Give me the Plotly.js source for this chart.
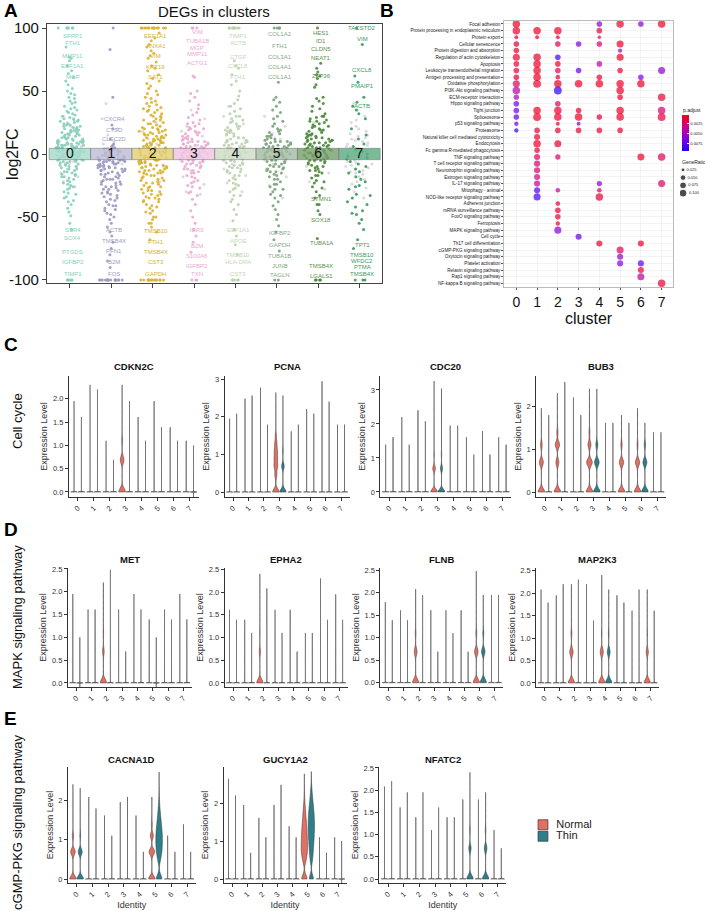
<!DOCTYPE html>
<html><head><meta charset="utf-8">
<script src="https://cdn.plot.ly/plotly-3.0.1.min.js"></script>
<style>html,body{margin:0;padding:0;background:#fff}#chart{width:705px;height:911px}</style>
</head><body><div id="chart"></div>
<script>
// ================= PANEL A DATA =================
const clusters = [0,1,2,3,4,5,6,7];
const pointColors = ['#86cfbb','#9d99c2','#d9b22e','#eba9d4','#b9d1ad','#7aa27b','#4a873a','#36995a'];
const tileColors  = ['#a6dccd','#bfbdd6','#e4cf76','#f1c5e2','#cfdec7','#a4bca4','#78a26c','#5cad82'];
const labelColors = ['#86cfbb','#a09cc2','#d6b030','#eaa8d3','#c2d6b8','#86a986','#5a8f4c','#3a9a5e'];
const nsColor = '#d6d6d9';

const fc0 = [100,100,100,100,100,100,85,77,76,74,70,66,64,61,58,55,52,50,48,47,45,44,42,41,40,38,37,36,35,34,33,32,31,30,29,28,27,27,26,25,24,24,23,22,22,21,20,20,19,19,18,18,17,17,16,16,15,15,14,14,13,13,12,12,11,11,10,10,10,9,9,9,8,8,8,7,7,7,6,6,6,5,5,5,4,4,4,3,3,3,2,2,2,1,1,1,-1,-1,-2,-2,-3,-3,-4,-4,-5,-5,-6,-6,-7,-8,-9,-10,-11,-12,-13,-14,-15,-16,-17,-18,-19,-20,-22,-23,-25,-26,-28,-30,-32,-35,-37,-40,-43,-46,-49,-55,-60,-100,-100,-100,-100,-100];
const fc1 = [100,83,45,23,20,12,8,7,5,4,3,3,2,2,1,1,-1,-1,-2,-2,-2,-3,-3,-3,-4,-4,-4,-5,-5,-5,-6,-6,-6,-7,-7,-8,-8,-9,-9,-10,-10,-11,-11,-12,-12,-13,-13,-14,-15,-15,-16,-17,-18,-19,-20,-20,-21,-22,-23,-24,-25,-26,-27,-28,-29,-30,-31,-32,-33,-35,-36,-38,-40,-41,-43,-45,-47,-50,-52,-55,-58,-62,-65,-70,-75,-80,-85,-90,-100,-100,-100,-100,-100,-100,-100,-100,-100,-100,-100,-100,-100,-100,-100,-100];
const fc2 = [100,100,100,100,100,100,100,100,100,100,100,100,100,100,96,92,90,87,85,82,80,78,76,73,70,68,66,63,60,58,56,54,52,50,48,47,45,44,42,41,40,39,38,37,36,35,34,33,32,31,30,29,28,27,26,25,24,23,22,21,20,20,19,18,18,17,16,16,15,15,14,14,13,13,12,12,11,11,10,10,9,9,8,8,7,7,6,6,5,5,4,4,3,3,2,2,1,1,-1,-1,-2,-2,-3,-3,-4,-4,-5,-5,-6,-6,-7,-7,-8,-8,-9,-9,-10,-10,-11,-11,-12,-12,-13,-13,-14,-14,-15,-15,-16,-17,-18,-19,-20,-21,-22,-23,-24,-25,-26,-27,-28,-29,-30,-31,-32,-33,-34,-35,-36,-37,-38,-40,-41,-43,-45,-47,-50,-52,-55,-58,-62,-68,-100,-100,-100,-100,-100,-100,-100,-100,-100,-100,-100,-100,-100,-100];
const fc3 = [100,100,100,62,61,50,48,45,42,39,36,33,31,29,27,25,24,22,21,20,19,18,17,16,15,14,13,12,12,11,10,10,9,9,8,8,7,7,6,6,5,5,4,4,3,3,2,2,1,1,-1,-1,-2,-2,-3,-3,-4,-4,-5,-5,-6,-6,-7,-7,-8,-9,-10,-11,-12,-13,-14,-15,-17,-19,-21,-23,-25,-27,-30,-33,-36,-40,-45,-50,-55,-60,-65,-70,-78,-100,-100,-100];
const fc4 = [100,100,100,100,100,100,100,100,74,70,68,63,58,55,50,46,43,40,38,36,34,32,30,28,27,25,24,22,21,20,19,18,17,16,15,14,13,12,11,10,10,9,8,8,7,6,6,5,4,4,3,2,2,1,-1,-1,-2,-3,-3,-4,-5,-5,-6,-7,-8,-9,-10,-11,-12,-13,-14,-15,-17,-19,-21,-23,-25,-27,-30,-33,-36,-40,-44,-48,-53,-60,-65,-72,-80,-100,-100,-100,-100,-100];
const fc5 = [100,100,100,100,57,45,43,41,38,35,33,30,28,26,24,22,20,19,18,17,16,15,14,13,12,11,10,10,9,9,8,8,7,7,6,6,5,5,4,4,3,3,2,2,1,1,-1,-1,-2,-2,-3,-3,-4,-4,-5,-5,-6,-7,-8,-9,-10,-11,-12,-13,-14,-15,-16,-18,-20,-22,-24,-26,-28,-30,-32,-35,-38,-41,-44,-48,-52,-57,-62,-68,-77,-100,-100];
const fc6 = [100,72,68,65,63,62,60,55,53,45,44,42,40,38,36,34,32,30,29,28,27,26,25,24,23,22,21,20,19,18,17,16,15,15,14,14,13,13,12,12,11,11,10,10,9,9,8,8,7,7,6,6,5,5,4,4,3,3,2,2,1,1,0,-1,-1,-2,-2,-3,-3,-4,-4,-5,-5,-6,-7,-8,-9,-10,-11,-12,-13,-14,-15,-17,-19,-21,-23,-26,-30,-35,-40,-45,-48,-67,-100,-100,-100,-100];
const fc7 = [100,87,62,57,45,41,38,35,32,28,20,12,8,4,2,0,-2,-4,-6,-8,-10,-12,-15,-18,-22,-25,-28,-32,-35,-38,-42,-45,-48,-52,-55,-60,-68,-75,-100,-100,-100];
// additional genes in the dense core of each cluster
const core0 = [28,26,23,21,19,17,15,13,12,11,9,8,7,6,5,4,3,2,1,0,-1,-2,-3,-4,-5,-6,-7,-8,-9,-10,-12,-14,-16,-18,-21,-24,-27,-31,-34,-38];
const core1 = [6,4,2,1,0,-1,-2,-3,-4,-5,-6,-7,-8,-9,-10,-11,-12,-13,-14,-16,-18,-20,-22,-24,-26,-28,-31,-34,-37,-41,-44,-48];
const core2 = [35,30,27,24,21,19,17,15,13,11,9,7,5,3,1,-1,-3,-5,-7,-9,-11,-13,-15,-17,-19,-21,-23,-26,-29,-32,-35,-38,-42,-46,-50,-55];
const core3 = [24,20,17,14,12,10,8,6,4,2,0,-2,-4,-6,-8,-10,-12,-15,-18,-22,-26,-31];
const core4 = [30,26,22,19,16,13,11,9,7,5,3,1,-1,-3,-5,-7,-9,-11,-14,-17,-20,-24,-28,-33,-38];
const core5 = [14,12,10,8,6,4,2,0,-2,-4,-6,-8,-10,-12,-14,-17,-20,-24,-28,-33];
const core6 = [30,26,22,19,16,13,11,9,7,5,3,1,-1,-3,-5,-7,-10,-13,-17,-22,-27,-33,-40];
const core7 = [15,6,-3,-14,-20,-26,-33,-40,-47];
const ns0 = [30,25,22,18,15,12,10,8,6,5,3,2,1,-1,-2,-4,-6,-8,-10,-12,-15,-18,-22,-26];
const ns1 = [40,28,20,15,10,8,5,3,2,-1,-3,-5,-8,-12,-16];
const ns2 = [25,18,12,8,4,1,-2,-6,-10,-15,-22];
const ns3 = [35,28,22,18,14,10,7,4,1,-2,-5,-9,-13,-18,-24,-30,-32];
const ns4 = [38,30,24,18,13,9,5,2,-1,-4,-8,-12,-17,-23,-30];
const ns5 = [30,22,16,12,8,5,2,-1,-4,-8,-12,-18,-25,-35];
const ns6 = [25,18,12,8,4,1,-2,-6,-10,-15,-22,-28];
const ns7 = [40,35,30,27,25,22,20,18,16,15,14,13,12,11,10,9,8,7,6,5,4,3,2,1,0,-1,-2,-3,-4,-5,-6,-7,-8,-9,-10,-11,-12,-13,-14,-15,-16,-18,-20,-22,-24,-27,-30,-35];
const sigFC = [fc0.concat(core0),fc1.concat(core1),fc2.concat(core2),fc3.concat(core3),fc4.concat(core4),fc5.concat(core5),fc6.concat(core6),fc7.concat(core7)];
const nsFC  = [ns0,ns1,ns2,ns3,ns4,ns5,ns6,ns7];

const labelCluster = [0,0,0,0,0,0,0,0,0,0, 1,1,1,1,1,1,1,1, 2,2,2,2,2,2,2,2,2,2, 3,3,3,3,3,3,3,3,3,3, 4,4,4,4,4,4,4,4,4,4, 5,5,5,5,5,5,5,5,5,5, 6,6,6,6,6,6,6,6,6,6, 7,7,7,7,7,7,7,7,7,7];
const labelGene = ['SFRP1','FTH1','MMP11','EEF1A1','MGP','SSR4','SOX4','PTGDS','IGFBP2','TIMP1',
  'CXCR4','CTSD','CLEC2D','ACTB','TMSB4X','PFN1','B2M','FOS',
  'EEF1A1','ANXA1','VIM','KRT19','SAT1','TMSB10','FTH1','TMSB4X','CST3','GAPDH',
  'VIM','TUBA1B','MGP','MMP11','ACTG1','IER3','B2M','S100A6','IGFBP2','TXN',
  'TIMP1','ACTB','CTGF','CXCL8','FTH1','EEF1A1','APOE','TMSB10','HLA-DRA','CST3',
  'COL1A2','FTH1','COL3A1','COL4A1','COL1A1','IGFBP2','GAPDH','TUBA1B','JUNB','TAGLN',
  'HES1','ID1','CLDN5','NEAT1','ZFP36','STMN1','SOX18','TUBA1A','TMSB4X','LGALS1',
  'TACSTD2','VIM','CXCL8','PMAIP1','ACTB','TPT1','TMSB10','WFDC2','PTMA','TMSB4X'];
const labelY = [94,88,78,70,61,-60,-67,-78,-86,-95,
  28,19,12,-60,-69,-77,-86,-95,
  94,86,78,69,61,-61,-70,-78,-86,-95,
  97,90,84,79,72,-60,-73,-81,-89,-95,
  94,88,77,70,61,-60,-69,-80,-86,-95,
  95,86,77,69,61,-63,-72,-81,-89,-96,
  96,90,83,76,62,-36,-52,-71,-89,-97,
  100,91,67,54,38,-72,-80,-85,-90,-95];

// ================= PANEL B DATA =================
const pathways = ['Focal adhesion','Protein processing in endoplasmic reticulum','Protein export','Cellular senescence','Protein digestion and absorption','Regulation of actin cytoskeleton','Apoptosis','Leukocyte transendothelial migration','Antigen processing and presentation','Oxidative phosphorylation','PI3K-Akt signaling pathway','ECM-receptor interaction','Hippo signaling pathway','Tight junction','Spliceosome','p53 signaling pathway','Proteasome','Natural killer cell mediated cytotoxicity','Endocytosis','Fc gamma R-mediated phagocytosis','TNF signaling pathway','T cell receptor signaling pathway','Neurotrophin signaling pathway','Estrogen signaling pathway','IL-17 signaling pathway','Mitophagy - animal','NOD-like receptor signaling pathway','Adherens junction','mRNA surveillance pathway','FoxO signaling pathway','Ferroptosis','MAPK signaling pathway','Cell cycle','Th17 cell differentiation','cGMP-PKG signaling pathway','Oxytocin signaling pathway','Platelet activation','Relaxin signaling pathway','Rap1 signaling pathway','NF-kappa B signaling pathway'];
const dotRow = [0,0,0,0,0, 1,1,1,1, 2,2,2,2, 3,3,3,3,3, 4,4, 5,5,5,5, 6,6,6,6, 7,7,7,7,7,7, 8,8,8,8,8, 9,9,9,9,9,9,9, 10,10,10, 11,11,11, 12,12, 13,13,13,13,13,13, 14,14,14,14,14,14,14, 15,15,15, 16,16,16,16,16,16, 17, 18,18, 19, 20,20,20,20, 21, 22, 23, 24,24,24, 25,25,25, 26,26, 27, 28, 29, 30, 31, 32, 33,33, 34, 35, 36,36, 37, 38, 39];
const dotCluster = [0,4,5,6,7, 0,1,2,4, 0,1,2,4, 0,2,3,4,5, 0,5, 0,1,2,5, 0,1,2,4, 0,1,2,3,5,7, 0,1,2,4,6, 0,1,2,3,4,5,6, 0,2,5, 0,5,7, 0,2, 0,1,2,3,5,7, 0,1,2,3,4,5,7, 0,2,3, 0,1,2,3,4,5, 1, 1,2, 1, 1,2,6,7, 1, 1, 1, 1,4,7, 1,2,4, 1,4, 2, 2, 2, 2, 2, 3, 4,6, 5, 5, 5,6, 6, 6, 7];
const dotGeneRatio = [0.09,0.05,0.09,0.05,0.09, 0.09,0.09,0.09,0.05, 0.025,0.025,0.025,0.02, 0.05,0.05,0.05,0.05,0.08, 0.05,0.03, 0.08,0.09,0.05,0.08, 0.05,0.09,0.05,0.05, 0.05,0.09,0.05,0.05,0.05,0.08, 0.05,0.09,0.035,0.05,0.05, 0.08,0.1,0.09,0.09,0.09,0.09,0.09, 0.09,0.1,0.09, 0.045,0.05,0.09, 0.05,0.05, 0.05,0.09,0.09,0.05,0.09,0.09, 0.05,0.1,0.09,0.09,0.05,0.09,0.1, 0.03,0.025,0.025, 0.03,0.05,0.05,0.05,0.05,0.05, 0.06, 0.09,0.08, 0.05, 0.06,0.045,0.08,0.09, 0.06, 0.06, 0.06, 0.06,0.045,0.08, 0.06,0.035,0.035, 0.08,0.09, 0.035, 0.05, 0.05, 0.03, 0.08, 0.06, 0.06,0.06, 0.08, 0.06, 0.06,0.06, 0.06, 0.08, 0.09];
const dotPadj = [0.0009,0.006,0.0009,0.006,0.0009, 0.0009,0.0009,0.0009,0.0012, 0.0012,0.0012,0.0015,0.003, 0.0012,0.002,0.006,0.0025,0.0009, 0.0012,0.0045, 0.0009,0.0009,0.0078,0.0009, 0.0012,0.0009,0.0012,0.0042, 0.0012,0.0009,0.0022,0.0068,0.0012,0.0058, 0.0012,0.0009,0.0012,0.0012,0.0062, 0.0022,0.0009,0.0009,0.0009,0.0009,0.0009,0.0009, 0.0042,0.0088,0.0009, 0.0045,0.0009,0.0012, 0.0065,0.0022, 0.0068,0.0009,0.0009,0.0012,0.0009,0.0028, 0.0068,0.0009,0.0009,0.0009,0.0012,0.0009,0.0012, 0.0068,0.0012,0.0065, 0.0088,0.0012,0.0012,0.0012,0.0012,0.0012, 0.0012, 0.0009,0.0012, 0.0012, 0.0022,0.0025,0.0009,0.0022, 0.0025, 0.0028, 0.0028, 0.0038,0.0058,0.0022, 0.0075,0.0038,0.0025, 0.0078,0.0012, 0.0012, 0.0012, 0.0012, 0.0015, 0.0058, 0.0072, 0.0012,0.0012, 0.0022, 0.0055, 0.0058,0.0072, 0.0012, 0.0042, 0.0012];
const ratioLegend = [0.025,0.050,0.075,0.100];
const padjTicks = [0.0025,0.0050,0.0075];

// ================= PANELS C-E DATA =================
const clusterNames = ['0','1','2','3','4','5','6','7'];
const groups = ['Normal','Thin'];
const groupColors = ['#e26f63','#2f7f8b'];
const genes = ['CDKN2C','PCNA','CDC20','BUB3','MET','EPHA2','FLNB','MAP2K3','CACNA1D','GUCY1A2','NFATC2'];
const normalMax = [
  [1.95,2.3,1.1,2.3,1.61,1.95,1.39,1.1],
  [1.95,2.48,2.77,2.64,1.61,2.2,2.94,1.79],
  [1.39,2.2,2.4,3.26,1.95,1.61,1.79,1.61],
  [1.95,2.3,2.2,2.4,1.61,1.79,1.95,1.39],
  [1.95,1.61,2.2,1.61,1.95,1.39,1.61,1.95],
  [1.61,1.39,2.4,1.61,1.61,1.1,2.3,1.95],
  [1.79,1.61,2.08,1.61,1.61,1.61,2.48,1.95],
  [2.08,1.95,2.2,2.2,2.4,1.95,1.61,2.08],
  [2.4,2.08,1.61,1.95,1.61,2.08,1.1,1.39],
  [2.64,1.95,1.61,1.95,1.39,2.77,1.1,1.1],
  [2.08,1.61,1.39,1.1,1.39,1.79,1.79,1.1]];
const thinMax = [
  [1.61,2.2,0.69,1.95,1.1,1.39,1.1,0],
  [2.08,2.56,1.79,2.56,1.79,2.08,2.4,1.79],
  [1.61,1.39,2.08,3.04,1.95,1.1,1.1,1.39],
  [1.79,2.56,1.79,2.4,1.61,1.61,1.61,1.39],
  [0,1.61,2.48,0.69,1.61,0,1.39,1.39],
  [1.39,1.1,2.08,1.1,0.69,1.1,1.39,1.39],
  [1.39,1.39,1.95,0.69,1.1,0.69,1.95,1.95],
  [1.79,2.2,2.3,1.39,2.08,1.79,2.08,1.61],
  [2.3,1.79,1.1,2.08,0.69,2.71,0.69,0.69],
  [2.2,0.69,1.1,2.48,1.1,2.83,0.69,0],
  [2.2,1.95,1.95,1.61,1.39,2.4,1.95,0.69]];
const ZERO_CELLS = 100;
const shapeGene    = ['CDKN2C','PCNA','PCNA','CDC20','CDC20','BUB3','BUB3','BUB3','BUB3','BUB3','BUB3','BUB3','MET','EPHA2','FLNB','FLNB','FLNB','MAP2K3','MAP2K3','MAP2K3','MAP2K3','CACNA1D','CACNA1D','CACNA1D','CACNA1D','GUCY1A2','GUCY1A2','NFATC2','NFATC2'];
const shapeCluster = [3,3,3,3,3,0,1,3,3,5,6,6,2,2,2,6,6,2,4,4,7,0,0,5,5,5,5,5,6];
const shapeGroup   = ['Normal','Normal','Thin','Normal','Thin','Normal','Normal','Normal','Thin','Normal','Normal','Thin','Normal','Normal','Normal','Normal','Thin','Normal','Normal','Thin','Normal','Normal','Thin','Normal','Thin','Normal','Thin','Thin','Thin'];
const shapeLevels = [
  [0,0.69,1.1],
  [0,0.45,0.69,0.9,1.1,1.3,1.5],
  [0,0.69,1.1],
  [0,0.69,1.1],
  [0,0.69,1.1],
  [0,0.69,1.1],
  [0,0.69,1.1,1.39],
  [0,0.69,1.1,1.39],
  [0,0.69,1.1],
  [0,0.69,1.1],
  [0,0.69,1.1],
  [0,0.69,1.1],
  [0,0.69,1.1],
  [0,0.69,1.1],
  [0,0.69,1.1],
  [0,0.69,1.1],
  [0,0.69,1.1],
  [0,0.69,1.1],
  [0,0.69,1.1],
  [0,0.69,1.1],
  [0,0.69,1.1],
  [0,0.69,1.1],
  [0,0.69,1.1],
  [0,0.69,1.1,1.39],
  [0,0.5,0.7,0.9,1.1,1.3,1.5,1.7,1.9,2.1,2.3],
  [0,0.5,0.7,0.9,1.1,1.3,1.5,1.7,1.9,2.1,2.3],
  [0,0.5,0.7,0.9,1.1,1.3,1.5,1.7,1.9,2.1,2.3,2.5],
  [0,0.69,1.1],
  [0,0.69,1.1]];
const shapeCounts = [
  [100,55,12],
  [100,30,55,50,45,30,15],
  [100,40,10],
  [100,40,8],
  [100,32,6],
  [100,60,25],
  [100,45,65,18],
  [100,85,45,15],
  [100,70,30],
  [100,65,20],
  [100,65,15],
  [100,60,20],
  [100,25,8],
  [100,20,6],
  [100,45,12],
  [100,55,15],
  [100,55,15],
  [100,55,15],
  [100,50,10],
  [100,45,10],
  [100,35,8],
  [100,70,20],
  [100,60,12],
  [100,85,45,15],
  [100,40,75,85,85,70,50,30,15,6,2],
  [100,50,85,85,80,70,55,40,25,10,4],
  [90,40,60,75,90,100,100,90,70,45,25,8],
  [100,35,10],
  [100,40,10]];
const shapeBandwidth = [0.08,0.09,0.08,0.08,0.08,0.08,0.08,0.08,0.08,0.08,0.08,0.08,0.08,0.08,0.08,0.08,0.08,0.08,0.08,0.08,0.08,0.08,0.08,0.08,0.11,0.11,0.11,0.08,0.08];

// ================= LAYOUT GEOMETRY =================
const W = 705, H = 911;
const px = v => v / W, py = v => 1 - v / H;
const FONT = 'Liberation Sans, Arial, Helvetica, sans-serif';

const traces = [];
const layout = {
  width: W, height: H, margin: {l:0, r:0, t:0, b:0},
  paper_bgcolor: '#fff', plot_bgcolor: '#fff',
  font: {family: FONT, color: '#222'},
  showlegend: false, boxmode: 'overlay', violinmode: 'group', violingap: 0.08, violingroupgap: 0.1,
  annotations: []
};
const ann = (text, x, y, o) => layout.annotations.push(Object.assign({text, x:px(x), y:py(y), xref:'paper', yref:'paper',
  xanchor:'center', yanchor:'middle', showarrow:false, font:{family:FONT, size:12, color:'#111'}}, o||{}));

// ---------- Panel A ----------
const A_X = [-0.555, 7.555], A_Y = [-102.4, 103.2];
layout.xaxis = {domain:[px(47), px(383)], range:A_X, anchor:'y', showline:true, mirror:true, linecolor:'#444', linewidth:1,
  ticks:'outside', ticklen:4, tickcolor:'#444', tickvals:clusters, showticklabels:false, showgrid:false, zeroline:false};
layout.yaxis = {domain:[py(283), py(24)], range:A_Y, anchor:'x', showline:true, mirror:true, linecolor:'#444', linewidth:1,
  ticks:'outside', ticklen:4, tickcolor:'#444', tickvals:[-100,-50,0,50,100], ticktext:['-100','-50','0','50','100'],
  tickfont:{size:15, color:'#111'}, showgrid:false, zeroline:false};
layout.xaxis2 = {overlaying:'x', range:A_X, visible:false, anchor:'y2'};
layout.yaxis2 = {overlaying:'y', range:A_Y, visible:false, anchor:'x2'};

const stripBase = {type:'box', boxpoints:'all', jitter:1, pointpos:0, width:0.68, fillcolor:'rgba(0,0,0,0)',
  line:{width:0, color:'rgba(0,0,0,0)'}, whiskerwidth:0, hoveron:'points', showlegend:false, xaxis:'x', yaxis:'y'};
clusters.forEach(c => traces.push(Object.assign({}, stripBase, {y:nsFC[c], x0:c, name:'ns'+c, marker:{color:nsColor, size:3, opacity:0.9}})));
clusters.forEach(c => traces.push(Object.assign({}, stripBase, {y:sigFC[c], x0:c, name:'c'+c, marker:{color:pointColors[c], size:3, opacity:0.9}})));

const TILE_HALF = 4.5;
traces.push({type:'bar', x:clusters, y:clusters.map(()=>2*TILE_HALF), base:-TILE_HALF, width:1, xaxis:'x2', yaxis:'y2',
  marker:{color:tileColors, opacity:0.82, line:{color:'#666', width:0.6}}, hoverinfo:'skip', showlegend:false});
traces.push({type:'scatter', mode:'text', x:clusters, y:clusters.map(()=>0), text:clusters.map(String), xaxis:'x2', yaxis:'y2',
  textfont:{family:FONT, size:14, color:'#111'}, textposition:'middle center', hoverinfo:'skip', showlegend:false});
labelGene.forEach((g,i) => layout.annotations.push({text:g, x:labelCluster[i], y:labelY[i], xref:'x', yref:'y', xshift:3,
  xanchor:'center', yanchor:'middle', showarrow:false, font:{family:FONT, size:6, color:labelColors[labelCluster[i]]}}));
ann('DEGs in clusters', 214, 12, {font:{family:FONT, size:15, color:'#111'}});
ann('log2FC', 12, 154, {textangle:-90, font:{family:FONT, size:16, color:'#111'}});
ann('<b>A</b>', 11, 10, {font:{family:FONT, size:19, color:'#000'}});

// ---------- Panel B ----------
const sizeOf = r => 25 * Math.sqrt(r);
layout.xaxis3 = {domain:[px(505), px(674)], range:[-0.58, 7.55], anchor:'y3', tickvals:clusters, tickfont:{size:14, color:'#111'},
  ticks:'outside', ticklen:2, tickcolor:'#555', showgrid:true, gridcolor:'#ebebeb', gridwidth:0.6, zeroline:false,
  showline:true, mirror:true, linecolor:'#bbb', linewidth:1};
layout.yaxis3 = {domain:[py(287), py(21)], type:'category', categoryarray:pathways, range:[39.55, -0.45], anchor:'x3',
  tickfont:{size:4.6, color:'#222'}, ticks:'outside', ticklen:2, tickcolor:'#555', showgrid:true, gridcolor:'#ebebeb', gridwidth:0.6,
  zeroline:false, showline:true, mirror:true, linecolor:'#bbb', linewidth:1};
traces.push({type:'scatter', mode:'markers', xaxis:'x3', yaxis:'y3', hoverinfo:'skip', showlegend:false,
  x:dotCluster, y:dotRow.map(i => pathways[i]),
  marker:{size:dotGeneRatio.map(sizeOf), color:dotPadj.map(p => -p), cmin:-0.0092, cmax:-0.0005,
    colorscale:[[0,'#2200ff'],[0.35,'#8000e0'],[0.65,'#cc0090'],[1,'#f2001a']], line:{width:0},
    colorbar:{x:px(682), xanchor:'left', y:py(133), yanchor:'middle', len:36, lenmode:'pixels', thickness:7, thicknessmode:'pixels',
      outlinewidth:0, xpad:0, ypad:0, tickvals:padjTicks.map(p => -p), ticktext:padjTicks.map(p => p.toFixed(4)),
      ticks:'inside', ticklen:2, tickcolor:'#fff', tickfont:{size:4, color:'#222'}, title:{text:''}}}});
ann('p.adjust', 682, 110, {xanchor:'left', font:{family:FONT, size:5, color:'#222'}});
layout.xaxis4 = {domain:[px(681), px(705)], range:[-0.5, 3.5], visible:false, anchor:'y4'};
layout.yaxis4 = {domain:[py(197), py(166)], range:[0.1125, 0.0125], visible:false, anchor:'x4'};
traces.push({type:'scatter', mode:'markers+text', xaxis:'x4', yaxis:'y4', hoverinfo:'skip', showlegend:false,
  x:ratioLegend.map(() => 0), y:ratioLegend, text:ratioLegend.map(r => r.toFixed(3)), textposition:'middle right',
  textfont:{size:4, color:'#222'}, marker:{size:ratioLegend.map(sizeOf), color:'#000'}});
ann('GeneRatio', 681, 162, {xanchor:'left', font:{family:FONT, size:5, color:'#222'}});
ann('cluster', 590, 318, {font:{family:FONT, size:16, color:'#111'}});
ann('<b>B</b>', 388, 10, {font:{family:FONT, size:19, color:'#000'}});

// ---------- Panels C-E ----------
const rowPx = [[376,497],[568,687],[767,883]];
const titleY = [366, 559, 759];
const colPx = [[[69,199],[225,350],[381,512],[537,667]], [[68,192],[225,348],[381,504],[537,660]], [[68,196],[224,347],[380,507]]];
const geneRow = [0,0,0,0,1,1,1,1,2,2,2], geneCol = [0,1,2,3,0,1,2,3,0,1,2];
const yRanges = [[-0.108,2.49],[-0.13,3.08],[-0.15,3.41],[-0.116,2.70],[-0.09,2.52],[-0.09,2.53],[-0.095,2.55],[-0.09,2.56],[-0.1,2.84],[-0.105,2.95],[-0.09,2.52]];
const yDtick = [0.5,1,1,1,0.5,0.5,0.5,0.5,1,1,0.5];
const yFmt = ['.1f','d','d','d','.1f','.1f','.1f','.1f','d','d','.1f'];

const vBase = {type:'violin', points:false, spanmode:'hard', scalemode:'width', box:{visible:false}, meanline:{visible:false},
  line:{color:'#333', width:0.5}, hoverinfo:'skip', showlegend:false};
const isShaped = (g, c, grp) => shapeGene.some((sg,k) => sg === g && shapeCluster[k] === c && shapeGroup[k] === grp);

genes.forEach((g, gi) => {
  const n = gi + 5, xa = 'x' + n, ya = 'y' + n;
  const r = geneRow[gi], cp = colPx[r][geneCol[gi]], rp = rowPx[r];
  layout['xaxis' + n] = {domain:[px(cp[0]), px(cp[1])], anchor:ya, type:'category', categoryarray:clusterNames, range:[-0.55, 7.55],
    tickangle:-45, tickfont:{size:7.5, color:'#333'}, ticks:'outside', ticklen:3, tickcolor:'#333', showline:true, linecolor:'#333', linewidth:1,
    showgrid:false, zeroline:false, title: r === 2 ? {text:'Identity', font:{size:9, color:'#333'}, standoff:3} : {text:''}};
  layout['yaxis' + n] = {domain:[py(rp[1]), py(rp[0])], anchor:xa, range:yRanges[gi], dtick:yDtick[gi], tick0:0, tickformat:yFmt[gi],
    tickfont:{size:7.5, color:'#333'}, ticks:'outside', ticklen:3, tickcolor:'#333', showline:true, linecolor:'#333', linewidth:1,
    showgrid:false, zeroline:false, title:{text:'Expression Level', font:{size:9, color:'#333'}, standoff:3}};
  ann('<b>' + g + '</b>', (cp[0] + cp[1]) / 2, titleY[r], {font:{family:FONT, size:9.5, color:'#111'}});
  groups.forEach((grp, k) => {
    const maxes = k === 0 ? normalMax[gi] : thinMax[gi];
    clusters.forEach(c => {
      if (isShaped(g, c, grp)) return;
      const ys = [];
      for (let i = 0; i < ZERO_CELLS; i++) ys.push(0);
      if (maxes[c] > 0) ys.push(maxes[c]);
      traces.push(Object.assign({}, vBase, {x:ys.map(() => clusterNames[c]), y:ys, xaxis:xa, yaxis:ya, offsetgroup:grp,
        name:grp, scalegroup:'L' + gi + grp + c, bandwidth:0.006, fillcolor:groupColors[k]}));
    });
  });
});
shapeGene.forEach((g, s) => {
  const gi = genes.indexOf(g), n = gi + 5, k = groups.indexOf(shapeGroup[s]);
  const c = shapeCluster[s], maxv = (k === 0 ? normalMax : thinMax)[gi][c];
  const ys = [];
  shapeLevels[s].forEach((lv, j) => { for (let i = 0; i < shapeCounts[s][j]; i++) ys.push(lv); });
  ys.push(maxv);
  traces.push(Object.assign({}, vBase, {x:ys.map(() => clusterNames[c]), y:ys, xaxis:'x'+n, yaxis:'y'+n, offsetgroup:shapeGroup[s],
    name:shapeGroup[s], scalegroup:'S' + s, bandwidth:shapeBandwidth[s], fillcolor:groupColors[k]}));
});

layout.xaxis16 = {domain:[px(538), px(620)], range:[-0.6, 8], visible:false, anchor:'y16'};
layout.yaxis16 = {domain:[py(842), py(819)], type:'category', categoryarray:groups, range:[1.5, -0.5], visible:false, anchor:'x16'};
traces.push({type:'scatter', mode:'markers+text', xaxis:'x16', yaxis:'y16', x:groups.map(() => 0), y:groups, text:groups.map(s => '  ' + s),
  textposition:'middle right', textfont:{size:11, color:'#222'}, hoverinfo:'skip', showlegend:false,
  marker:{symbol:'square', size:10, color:groupColors, line:{color:'#333', width:0.7}}});

ann('Cell cycle', 17, 421, {textangle:-90, font:{family:FONT, size:13, color:'#111'}});
ann('MAPK signaling pathway', 17, 617, {textangle:-90, font:{family:FONT, size:13, color:'#111'}});
ann('cGMP-PKG signaling pathway', 17, 822, {textangle:-90, font:{family:FONT, size:13, color:'#111'}});
ann('<b>C</b>', 11, 345, {font:{family:FONT, size:19, color:'#000'}});
ann('<b>D</b>', 11, 529, {font:{family:FONT, size:19, color:'#000'}});
ann('<b>E</b>', 11, 718, {font:{family:FONT, size:19, color:'#000'}});

Plotly.newPlot('chart', traces, layout, {staticPlot:true, displayModeBar:false});
</script></body></html>
